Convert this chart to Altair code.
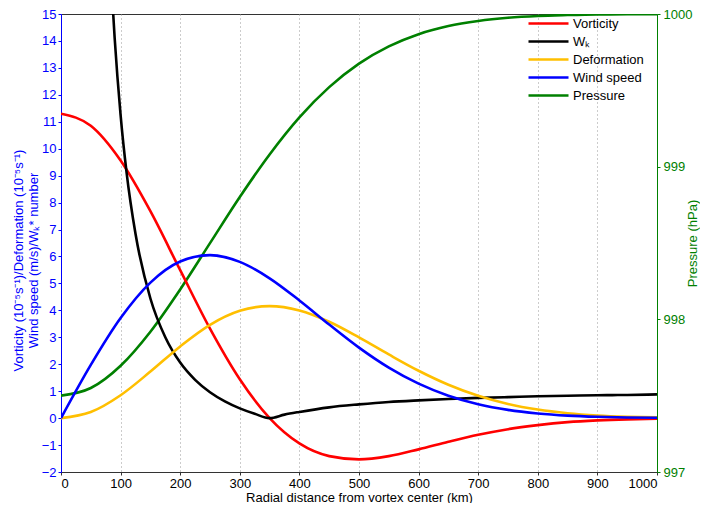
import pandas as pd
import altair as alt

# radial distance (km) and the curves
r_km = [0, 50, 100, 150, 200, 250, 300, 350, 400, 450, 500,
        550, 600, 650, 700, 750, 800, 850, 900, 950, 1000]
vorticity = [11.30, 10.85, 9.56, 7.68, 5.49, 3.32, 1.44, 0.0, -0.94, -1.41, -1.53,
             -1.41, -1.16, -0.88, -0.62, -0.41, -0.26, -0.15, -0.085, -0.045, -0.023]
deformation = [0.0, 0.226, 0.850, 1.727, 2.662, 3.461, 3.982, 4.157, 3.998, 3.577, 2.996,
               2.362, 1.758, 1.239, 0.828, 0.526, 0.318, 0.183, 0.100, 0.053, 0.026]
wind_speed = [0.0, 1.975, 3.715, 5.031, 5.815, 6.049, 5.800, 5.190, 4.367, 3.473, 2.618,
              1.876, 1.280, 0.833, 0.517, 0.306, 0.174, 0.094, 0.049, 0.024, 0.011]
pressure = [997.500, 997.550, 997.696, 997.919, 998.196, 998.499, 998.801, 999.080,
            999.323, 999.521, 999.675, 999.788, 999.868, 999.921, 999.954, 999.975,
            999.987, 999.993, 999.997, 999.998, 999.999]

wk_r = [80, 85, 90, 100, 110, 125, 150, 175, 200, 225, 250, 275, 300, 325, 350,
        375, 400, 450, 500, 550, 600, 650, 700, 750, 800, 850, 900, 950, 1000]
wk = [18.14, 15.96, 14.12, 11.25, 9.12, 6.84, 4.44, 3.00, 2.06, 1.42, 0.96, 0.62, 0.36,
      0.16, 0.0, 0.13, 0.23, 0.40, 0.51, 0.60, 0.66, 0.71, 0.75, 0.78, 0.81, 0.83,
      0.85, 0.86, 0.88]

SERIES = ["Vorticity", "W\u2096", "Deformation", "Wind speed", "Pressure"]
COLORS = ["#ff0000", "#000000", "#ffbf00", "#0000ff", "#008000"]
WIDTHS = [2.6, 2.6, 1.6, 1.6, 1.6]
FONT = "Liberation Sans"

left_df = pd.concat([
    pd.DataFrame({"r": r_km, "value": vorticity, "series": SERIES[0]}),
    pd.DataFrame({"r": wk_r, "value": wk, "series": SERIES[1]}),
    pd.DataFrame({"r": r_km, "value": deformation, "series": SERIES[2]}),
    pd.DataFrame({"r": r_km, "value": wind_speed, "series": SERIES[3]}),
])
right_df = pd.DataFrame({"r": r_km, "value": pressure, "series": SERIES[4]})

x_enc = alt.X(
    "r:Q",
    scale=alt.Scale(domain=[0, 1000], nice=False),
    axis=alt.Axis(
        values=list(range(0, 1001, 100)), format="d",
        title="Radial distance from vortex center (km)",
        labelColor="#000000", titleColor="#000000", domainColor="#333333", tickColor="#333333",
        gridColor="#999999", gridDash=[1, 3], labelFontSize=13, titleFontSize=13,
        titleFontWeight="normal", labelFont=FONT, titleFont=FONT,
        tickSize=3, labelPadding=2, titlePadding=1,
    ),
)
color_enc = alt.Color(
    "series:N",
    scale=alt.Scale(domain=SERIES, range=COLORS),
    legend=alt.Legend(
        title=None, orient="none", legendX=478, legendY=0,
        symbolType="M-2.5,0H2.5", symbolSize=256, symbolStrokeWidth=2,
        labelFontSize=13, labelFont=FONT, rowPadding=1, labelOffset=15,
        symbolOffset=0,
    ),
)
width_enc = alt.StrokeWidth("series:N", scale=alt.Scale(domain=SERIES, range=WIDTHS), legend=None)

left = alt.Chart(left_df).mark_line(clip=True, interpolate="monotone").encode(
    x=x_enc,
    y=alt.Y(
        "value:Q",
        scale=alt.Scale(domain=[-2, 15], nice=False),
        axis=alt.Axis(
            values=list(range(-2, 16)),
            title=["Vorticity (10\u207b\u2075s\u207b\u00b9)/Deformation (10\u207b\u2075s\u207b\u00b9)",
                   "Wind speed (m/s)/W\u2096* number"],
            labelColor="#0000ff", titleColor="#0000ff", domainColor="#0000ff", tickColor="#0000ff",
            gridColor="#a0a0ff", gridDash=[1, 3], labelFontSize=13, titleFontSize=13,
            titleFontWeight="normal", labelFont=FONT, titleFont=FONT, titlePadding=1,
            titleY=246, tickSize=3, labelPadding=2,
        ),
    ),
    color=color_enc,
    strokeWidth=width_enc,
)

right = alt.Chart(right_df).mark_line(clip=True, interpolate="monotone").encode(
    x=x_enc,
    y=alt.Y(
        "value:Q",
        scale=alt.Scale(domain=[997, 1000], nice=False),
        axis=alt.Axis(
            orient="right", values=[997, 998, 999, 1000], format="d", grid=False,
            title="Pressure (hPa)", titleAngle=270,
            labelColor="#008000", titleColor="#008000", domainColor="#008000", tickColor="#008000",
            labelFontSize=13, titleFontSize=13, titleFontWeight="normal",
            labelFont=FONT, titleFont=FONT, titlePadding=8, tickSize=3, labelPadding=3,
        ),
    ),
    color=color_enc,
    strokeWidth=width_enc,
)

chart = (
    alt.layer(right, left)
    .resolve_scale(y="independent")
    .properties(
        width=596, height=458,
        autosize=alt.AutoSizeParams(type="none"),
        padding={"left": 53, "top": 6, "right": 43, "bottom": 31},
    )
    .configure_view(stroke="#333333", strokeWidth=1)
)

chart.save("out.html", embed_options={"renderer": "svg", "actions": False})
